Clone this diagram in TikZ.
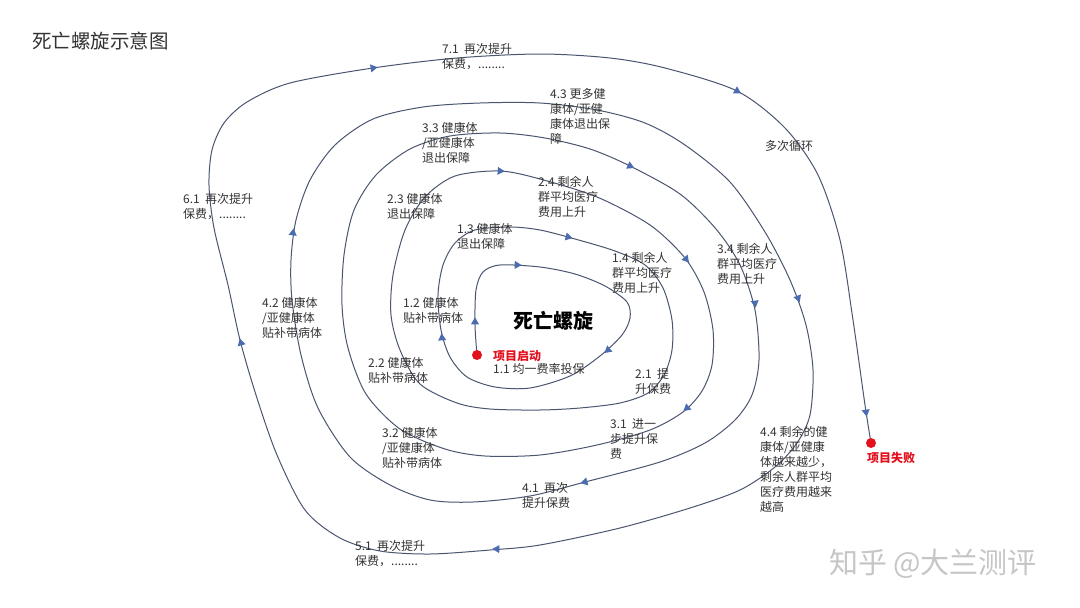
\documentclass[tikz,border=0pt]{standalone}
\usepackage{fontspec}
\setmainfont{Noto Sans CJK SC}
\definecolor{spiralline}{HTML}{4A5670}
\definecolor{tipblue}{HTML}{4B6DB0}
\definecolor{alarmred}{HTML}{E3101E}
\definecolor{inkgray}{HTML}{333333}
\definecolor{markgray}{HTML}{C6C6C6}
\usepackage{tikz}
\usetikzlibrary{shapes.geometric}

\begin{document}
\begin{tikzpicture}[x=1pt,y=-1pt,
    lbl/.style={anchor=north west,align=left,inner sep=0pt,text=inkgray,font=\fontsize{12}{15}\selectfont},
    redlbl/.style={anchor=north west,inner sep=0pt,text=alarmred,font=\bfseries\fontsize{12}{15}\selectfont},
    reddot/.style={circle,fill=alarmred,inner sep=0pt,minimum size=10pt},
    flowtip/.style={isosceles triangle,isosceles triangle apex angle=60,fill=tipblue,inner sep=0pt,minimum size=7pt},
    spiral/.style={spiralline,line width=1pt}]
    \useasboundingbox[fill=white] (0,0) rectangle (1080,608);
    \node[anchor=west,inner sep=0pt,text=inkgray,font=\fontsize{19.5}{22}\selectfont] (title) at (32,41) {死亡螺旋示意图};
    \coordinate (start) at (477,355);
    \coordinate (stop) at (871,443);
    \draw[spiral] plot[smooth,tension=0.5] coordinates {(start)
        (475,325) (476,290) (483,272) (500,265) (540,267) (575,274) (605,286) (627,302) (630,318) (622,335) (600,356) (570,376) (530,388) (495,387) (467,377) (450,357)
        (441,330) (438,295) (443,265) (455,243) (475,230) (510,227) (540,230) (575,239) (615,251) (645,265) (663,288) (672,320) (672,350) (664,375) (648,393) (620,403) (580,408) (540,410) (490,409) (457,403) (420,384) (400,350) (391,315)
        (393,275) (405,230) (425,197) (455,176) (500,171) (540,179) (597,197) (650,225) (685,258) (704,292) (713,330) (712,365) (702,391) (683,412) (650,430) (597,445) (540,455) (485,456) (445,449) (400,429) (366,394) (348,348) (342,305)
        (344,255) (354,210) (376,175) (410,149) (450,136) (500,133) (545,138) (590,149) (630,166) (680,194) (716,229) (740,265) (755,310) (759,360) (752,395) (735,420) (705,443) (660,462) (585,482) (530,496) (473,502) (430,500) (390,485) (350,457) (318,408) (301,355) (292,300)
        (291,260) (296,220) (310,180) (335,145) (373,119) (423,107) (480,103) (540,103) (597,110) (645,123) (685,145) (730,182) (765,232) (790,280) (806,325) (813,370) (810,415) (797,443) (775,467) (740,490) (690,508) (620,528) (540,545) (490,550) (430,554) (380,551) (340,538) (305,510) (277,455) (256,395) (240,340) (228,285)
        (214,228) (209,185) (212,150) (224,123) (247,102) (290,83) (373,68) (457,58) (540,54) (610,58) (665,68) (737,91) (785,128) (818,175) (840,240) (853,320) (865,405)
        (stop)};
    \foreach \px/\py/\ang [count=\i] in {475/322/90, 517/265/-2, 608/350/-140, 442/338/95, 568/237/-14, 500/171/-4,
        686/259/-50, 687/408/-140, 630/166/-25, 755/303/-82, 585/482/-165, 293/233/82,
        798/298/-70, 497/549/178, 241/343/105, 373/68/9, 737/91/-30, 866/412/-82}
        \node[flowtip,rotate=\ang] (tip\i) at (\px,\py) {};
    \node[reddot] (startdot) at (start) {};
    \node[reddot] (stopdot) at (stop) {};
    \node[redlbl] (launch) at (493,350) {项目启动};
    \node[redlbl] (failure) at (867,452) {项目失败};
    \node[inner sep=0pt,text=black,font=\bfseries\fontsize{20}{22}\selectfont] (core) at (553,321) {死亡螺旋};
    \node[lbl] (lab11) at (493,363) {1.1 均一费率投保};
    \node[lbl] (lab12) at (403,297) {1.2 健康体\\贴补带病体};
    \node[lbl] (lab13) at (457,223) {1.3 健康体\\退出保障};
    \node[lbl] (lab14) at (612,252) {1.4 剩余人\\群平均医疗\\费用上升};
    \node[lbl] (lab21) at (635,368) {2.1\ \ 提\\升保费};
    \node[lbl] (lab22) at (368,357) {2.2 健康体\\贴补带病体};
    \node[lbl] (lab23) at (387,193) {2.3 健康体\\退出保障};
    \node[lbl] (lab24) at (538,176) {2.4 剩余人\\群平均医疗\\费用上升};
    \node[lbl] (lab31) at (610,418) {3.1\ \ 进一\\步提升保\\费};
    \node[lbl] (lab32) at (382,427) {3.2 健康体\\/亚健康体\\贴补带病体};
    \node[lbl] (lab33) at (422,122) {3.3 健康体\\/亚健康体\\退出保障};
    \node[lbl] (lab34) at (717,243) {3.4 剩余人\\群平均医疗\\费用上升};
    \node[lbl] (lab41) at (522,482) {4.1\ \ 再次\\提升保费};
    \node[lbl] (lab42) at (262,297) {4.2 健康体\\/亚健康体\\贴补带病体};
    \node[lbl] (lab43) at (550,88) {4.3 更多健\\康体/亚健\\康体退出保\\障};
    \node[lbl] (lab44) at (760,426) {4.4 剩余的健\\康体/亚健康\\体越来越少，\\剩余人群平均\\医疗费用越来\\越高};
    \node[lbl] (lab51) at (355,540) {5.1\ \ 再次提升\\保费，........};
    \node[lbl] (lab61) at (183,193) {6.1\ \ 再次提升\\保费，........};
    \node[lbl] (lab71) at (442,43) {7.1\ \ 再次提升\\保费，........};
    \node[lbl] (loops) at (765,140) {多次循环};
    \node[inner sep=0pt,text=markgray,font=\fontsize{29}{32}\selectfont] (mark) at (933,564) {知乎 @大兰测评};
\end{tikzpicture}
\end{document}
